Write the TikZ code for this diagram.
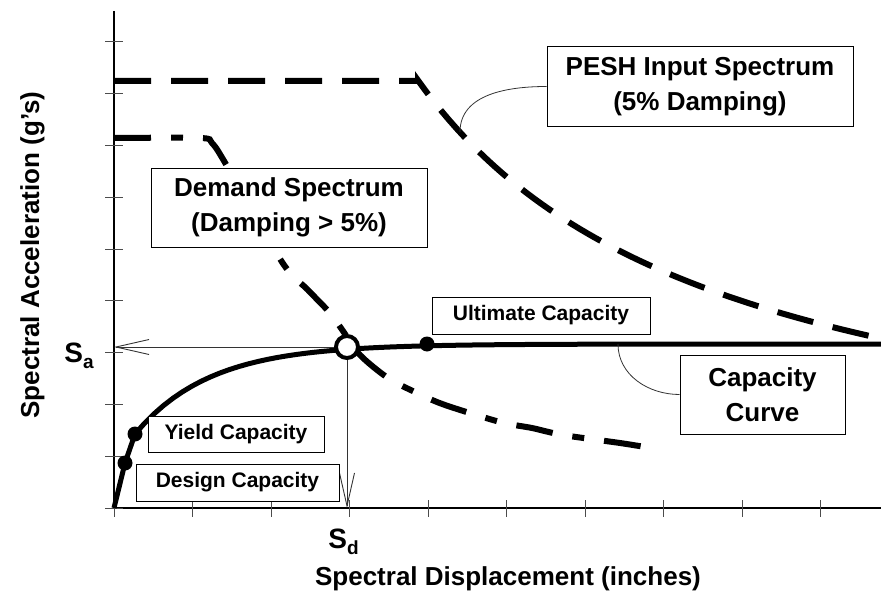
\documentclass[tikz,border=0pt]{standalone}
\usepackage{fontspec}
\setmainfont{Liberation Sans}
\usetikzlibrary{arrows.meta}

\begin{document}
\begin{tikzpicture}[x=1pt,y=-1pt,
	axis/.style={line width=2.5pt},
	tick/.style={line width=1pt, black!70},
	capline/.style={line width=5pt},
	pesh/.style={line width=6pt, dash pattern=on 37pt off 20pt},
	demand/.style={line width=6pt, dash pattern=on 37pt off 20pt on 12pt off 20pt},
	guide/.style={line width=0.9pt, black!80, -{Straight Barb[length=33pt,width=15pt,line width=0.9pt]}},
	conn/.style={line width=0.8pt, black!80},
	dot/.style={circle, fill, inner sep=0pt, minimum size=15pt},
	bigbox/.style={draw, line width=1pt, fill=white, inner sep=0pt, align=center,
		font=\fontsize{26}{35}\selectfont\bfseries, minimum height=79pt},
	smallbox/.style={draw, line width=1pt, fill=white, inner sep=0pt,
		font=\fontsize{21}{25}\selectfont\bfseries, minimum height=37pt},
	lab/.style={font=\fontsize{26}{30}\selectfont\bfseries}]
\useasboundingbox (0,0) rectangle (881,594);
\coordinate (o) at (114,508);

% axes and ticks
\draw[axis] (114,11) -- (o) -- (881,508);
\foreach \i in {0,...,9} {
	\draw[tick] (114+78.5*\i,500) -- ++(0,17);
	\draw[tick] (105,508-51.8*\i) -- ++(18,0);
}

% spectra
\draw[pesh] (114,81) -- (418,81)
	-- plot[domain=418:873, samples=60] (\x,{508-1300/(\x/100-1.14)});
\draw[demand] plot[smooth, tension=0.5] coordinates {(114,138) (200,138) (212,143)
	(227,166) (282,262) (308,290) (330,313) (343,331) (360,355) (388,378)
	(417,393) (445,405) (500,422) (532,428) (563,435) (620,443) (645,447)};

% capacity curve
\draw[capline] (o) -- (125,463) -- (135,434)
	-- plot[domain=135:881, samples=80] (\x,{344+90*exp(-(\x-135)/75)});
\node[dot] (design) at (125,463) {};
\node[dot] (yield) at (135,434) {};
\node[dot] (ultimate) at (427,344) {};
\node[circle, draw, line width=4pt, fill=white, minimum size=22pt, inner sep=0pt] (perf) at (347,347) {};

\draw[guide] (perf) -- (o |- perf);
\draw[guide] (perf) -- (perf |- o);

% labels
\node[bigbox, minimum width=306pt] (peshbox) at (700,86.5) {PESH Input Spectrum\\(5\% Damping)};
\node[bigbox, minimum width=276pt] (demandbox) at (289,207.5) {Demand Spectrum\\(Damping > 5\%)};
\node[bigbox, minimum width=165pt] (capbox) at (762.5,394.5) {Capacity\\Curve};
\node[smallbox, minimum width=218pt] (ultbox) at (541,315.5) {Ultimate Capacity};
\node[smallbox, minimum width=176pt, minimum height=36pt] (yieldbox) at (236,434) {Yield Capacity};
\node[smallbox, minimum width=203pt] (designbox) at (237.5,482.5) {Design Capacity};

\coordinate (pc) at (460,132);
\coordinate (cc) at (618,344);
\draw[conn] (peshbox.west) to[out=180,in=90] (pc);
\draw[conn] (cc) to[out=-90,in=180] (capbox.west);

\node[lab, font=\fontsize{28}{30}\selectfont\bfseries, anchor=base] (sa) at (79,362)
	{S\raisebox{-0.22em}{\fontsize{19}{19}\selectfont a}};
\node[lab, font=\fontsize{28}{30}\selectfont\bfseries, anchor=base] (sd) at (343.5,548)
	{S\raisebox{-0.22em}{\fontsize{19}{19}\selectfont d}};
\node[lab, anchor=base] (xlab) at (508,585) {Spectral Displacement (inches)};
\node[lab, rotate=90, anchor=base] (ylab) at (39,255) {Spectral Acceleration (g's)};
\end{tikzpicture}
\end{document}
